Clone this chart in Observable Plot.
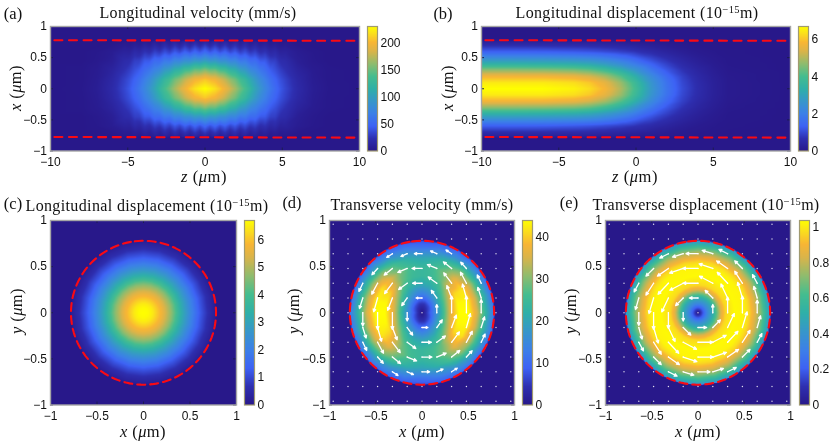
<!DOCTYPE html>
<html><head><meta charset="utf-8">
<script src="https://cdn.jsdelivr.net/npm/d3@7"></script>
<script src="https://cdn.jsdelivr.net/npm/@observablehq/plot@0.6"></script>
<style>
html,body{margin:0;padding:0;background:#fff;width:831px;height:443px;overflow:hidden}
#fig{position:relative;width:831px;height:443px;filter:blur(.3px)}
#fig svg{position:absolute;overflow:visible}
.t{position:absolute;font-family:"Liberation Serif",serif;font-size:16px;color:#111;white-space:nowrap;line-height:1}
.t sup{font-size:10.5px;line-height:0;vertical-align:5px}
</style></head><body><div id="fig"></div>
<script>
// colour map (fraction of the maximum -> colour)
const mapStops  = [0, .1, .2, .3, .4, .5, .6, .7, .8, .87, .95, 1];
const mapColors = ["#28188a","#2e2fb0","#3d62f5","#3c80e8","#3797ca","#2fb0a8","#45bd8f","#8fbc6e","#dab44a","#f8b535","#fbe31a","#ffff00"];

// (a) longitudinal velocity, half of the symmetric z axis; rows by |x|
const aZ = [0,.325,.65,.975,1.3,1.625,1.95,2.275,2.6,2.925,3.25,3.575,3.9,4.225,4.55,4.875,5.2,6,7,8,10];
const aX = [0,.15,.3,.45,.6,.7,.77,.79,1];
const aRows = [
 [230,225,218,208,195,182,168,152,138,122,105,90,76,63,52,42,34,18,6,1.5,0],
 [207,201,197,186,176,162,152,136,125,109,95,80,69,56,47,38,31,16,5,1,0],
 [159,150,151,139,135,121,116,101,95,80,73,62,55,44,38,30,24,12,4,1,0],
 [100,91,94,84,85,75,76,63,65,53,54,42,42,31,30,21,19,7,2,0,0],
 [50,38,48,36,45,33,41,29,36,25,30,20,24,15,18,10,11,5,1.5,0,0],
 [28,17,27,16,25,14,23,12,20,10,16,8,12,6,8,4,5,1.5,0,0,0],
 [13,6,13,6,12,5,11,5,10,4,8,3,6,2,4,1,2,0,0,0,0]
];
// (b) longitudinal displacement, rows by |x|
const bZ = [-10,-8,-6,-4,-3,-2,-1,0,1,2,3,4,5,6,10];
const bX = [0,.1,.2,.3,.4,.5,.6,.7,.78,.79,1];
const bRows = [
 [6.7,6.7,6.7,6.55,6.3,5.8,5.0,3.9,2.7,1.75,1.05,.6,.28,.09,0],
 [6.45,6.45,6.45,6.3,6.05,5.55,4.8,3.75,2.6,1.7,1.0,.57,.27,.09,0],
 [5.75,5.75,5.75,5.6,5.35,4.9,4.2,3.3,2.3,1.5,.9,.5,.24,.08,0],
 [4.7,4.7,4.65,4.5,4.3,3.9,3.35,2.6,1.85,1.2,.72,.4,.19,.06,0],
 [3.4,3.4,3.35,3.25,3.1,2.8,2.4,1.9,1.35,.9,.52,.28,.13,.04,0],
 [2.3,2.3,2.28,2.2,2.1,1.9,1.62,1.28,.92,.6,.36,.19,.09,.03,0],
 [1.3,1.3,1.28,1.2,1.13,1.02,.88,.7,.52,.35,.2,.1,.05,.02,0],
 [.6,.6,.59,.55,.52,.47,.4,.32,.24,.16,.09,.05,.02,.01,0],
 [.2,.2,.2,.18,.17,.15,.13,.1,.08,.05,.03,.02,.01,0,0]
];
// (c) longitudinal displacement against radius
const cR = [0,.05,.1,.2,.3,.4,.5,.6,.7,.78];
const cV = [6.7,6.65,6.45,5.7,4.7,3.4,2.3,1.3,.6,.2];
// (d) transverse velocity: rows by angle 0,15..90 deg, columns by radius
const dR = [0,.1,.2,.3,.4,.5,.6,.7,.78];
const dRows = [
 [0,10,21,35,44,44,35,22,12],
 [0,9,21,34,43.5,43.5,34,21,11],
 [0,8,20,31,41,42,33,20,10],
 [0,7,18,27,35,37,31,19,10],
 [0,6,16,23,28,30,26,16,9],
 [0,5,14,21,25,26,22,14,8],
 [0,5,13,20,24,24,20,12,7]
];
// (e) transverse displacement against radius
const eR = [0,.1,.16,.2,.25,.3,.4,.5,.55,.6,.65,.7,.75,.78];
const eV = [0,.35,.5,.65,.85,.97,1.03,1.02,.97,.88,.78,.65,.5,.4];
// arrows on the quiver grid, first quadrant; rows by y step, columns by x step
const quiverStep = .16;
const dU = [[0,0,0,0,0],[-15,-14,-12,-10,-8.5],[-24,-22,-20,-15,-10],[-25.5,-24,-21,-14.5],[-19.5,-16,-14.5]];
const dV = [[0,21,42.5,42.5,34],[0,19.5,31.5,35.5,27],[0,16,26.5,28,21],[0,10,17,16],[0,7,9.5]];
const eU = [[0,0,0,0,0],[-.52,-.46,-.40,-.28,-.20],[-.90,-.80,-.62,-.46,-.28],[-.92,-.82,-.66,-.46],[-.72,-.64,-.52]];
const eV2 = [[0,.50,.94,1.0,.76],[0,.46,.84,.94,.70],[0,.42,.66,.72,.52],[0,.28,.46,.46],[0,.20,.26]];
const angles = d3.range(0,360,15);

const fig = document.getElementById("fig");
const FONT = "Liberation Sans, Arial, sans-serif";
const TICK = 12;
const colorScale = max => ({type:"linear",domain:mapStops.map(s=>s*max),range:mapColors,clamp:true});
const rowsMesh = (zs,xs,rows,mirror) => {
  const Z = mirror ? [...zs.slice(1).reverse().map(z=>-z),...zs] : zs;
  const col = k => mirror ? Math.abs(k-zs.length+1) : k;
  const out=[];
  xs.forEach((x,j)=>{ Z.forEach((z,k)=>{ const v = rows[j] ? rows[j][col(k)] : 0;
    out.push({x:z,y:x,v}); if(x>0) out.push({x:z,y:-x,v}); }); });
  return out;
};
const polarMesh = (rs,val) => {
  const out=[{x:0,y:0,v:val(0,0)}];
  rs.slice(1).forEach((r,i)=>angles.forEach(a=>{
    out.push({x:r*Math.cos(a*Math.PI/180),y:r*Math.sin(a*Math.PI/180),v:val(i+1,a)});
  }));
  angles.forEach(a=>out.push({x:.79*Math.cos(a*Math.PI/180),y:.79*Math.sin(a*Math.PI/180),v:0}));
  [[-1,-1],[1,-1],[-1,1],[1,1]].forEach(([x,y])=>out.push({x,y,v:0}));
  return out;
};
const foldAngle = a => { a%=180; return (a>90?180-a:a)/15; };
const RED={stroke:"#fa0a14",strokeWidth:2.1};
const circle = d3.range(0,361,3).map(a=>({x:.78*Math.cos((a+100)*Math.PI/180),y:.78*Math.sin((a+100)*Math.PI/180)}));
const fmtTick = d => String(d).replace("-","−");

function quiver(U,V,scale){
  const arrows=[];
  U.forEach((row,j)=>row.forEach((u,i)=>{
    if(i===0&&j===0) return;
    for(const sx of i?[1,-1]:[1]) for(const sy of j?[1,-1]:[1]){
      const x=sx*i*quiverStep,y=sy*j*quiverStep;
      arrows.push({x,y,x2:x+u*sy*scale,y2:y+V[j][i]*sx*scale});
    }
  }));
  const g=d3.range(-6,7).map(k=>k*quiverStep);
  const dots=d3.cross(g,g).map(([x,y])=>({x,y}));
  return [
    Plot.dot(dots,{x:"x",y:"y",r:.7,fill:"#fff",fillOpacity:.85}),
    Plot.arrow(arrows,{x1:"x",y1:"y",x2:"x2",y2:"y2",stroke:"#fff",strokeWidth:1.3,headLength:3.5,headAngle:50})
  ];
}

function put(plot,left,top){ plot.style.left=left+"px"; plot.style.top=top+"px"; fig.appendChild(plot); }

function panel({L,T,W,H,xd,xt,max,mesh,extra}){
  const m=30;
  const yt=[-1,-.5,0,.5,1];
  const axes=[
    Plot.axisX({ticks:xt,tickSize:0,tickPadding:6,fontSize:TICK,tickFormat:fmtTick}),
    Plot.axisY({ticks:yt,tickSize:0,tickPadding:3.5,fontSize:TICK,tickFormat:fmtTick}),
    Plot.tickX(xt,{x:d=>d,insetTop:H-3,stroke:"#1c1c50"}),
    Plot.tickX(xt,{x:d=>d,insetBottom:H-3,stroke:"#1c1c50"}),
    Plot.tickY(yt,{y:d=>d,insetRight:W-3,stroke:"#1c1c50"}),
    Plot.tickY(yt,{y:d=>d,insetLeft:W-3,stroke:"#1c1c50"})
  ];
  put(Plot.plot({width:W+2*m,height:H+2*m,marginLeft:m,marginRight:m,marginTop:m,marginBottom:m,
    style:{background:"transparent",fontFamily:FONT,color:"#111",fontSize:TICK+"px"},
    x:{domain:xd,label:null,axis:null},y:{domain:[-1,1],label:null,axis:null},color:colorScale(max),
    marks:[
      Plot.frame({fill:mapColors[0]}),
      Plot.raster(mesh,{x:"x",y:"y",fill:"v",interpolate:"barycentric",pixelSize:1}),
      ...extra,...axes,
      Plot.frame({stroke:"#a6a6a6",strokeWidth:1.4})
    ]}),L-m,T-m);
}
function colorbar({L,T,W,H,max,ticks}){
  const m=30;
  put(Plot.plot({width:W+2*m,height:H+2*m,marginLeft:m,marginRight:m,marginTop:m,marginBottom:m,
    style:{background:"transparent",fontFamily:FONT,color:"#111",fontSize:TICK+"px"},
    x:{domain:[0,1],axis:null},y:{domain:[0,max],axis:null},color:colorScale(max),
    marks:[
      Plot.raster({x1:0,x2:1,y1:0,y2:max,width:1,height:Math.round(H),fill:(x,y)=>y}),
      Plot.axisY({anchor:"right",ticks,tickSize:0,tickPadding:3,fontSize:TICK,label:null,tickFormat:fmtTick}),
      Plot.frame({stroke:"#a09a70",strokeWidth:1.2})
    ]}),L-m,T-m);
}
function text(html,cx,cy,target,rot,size){
  const d=document.createElement("div"); d.className="t"; d.innerHTML=html;
  if(size) d.style.fontSize=size+"px";
  fig.appendChild(d);
  if(target){ const w=d.getBoundingClientRect().width; const n=d.textContent.length; d.style.letterSpacing=((target-w)/n)+"px"; }
  d.style.left=cx+"px"; d.style.top=cy+"px";
  d.style.transform=`translate(-50%,-50%)${rot?" rotate(-90deg)":""}`;
}

const xtN=[-1,-.5,0,.5,1], ztN=[-10,-5,0,5,10];
const lineZ=[-9.75,9.85];
const redLines=()=>[
  Plot.line(lineZ.map((z,i)=>({z,x:[.78,.77][i]})),{x:"z",y:"x",...RED,strokeDasharray:"8,6.6"}),
  Plot.line(lineZ.map((z,i)=>({z,x:[-.775,-.785][i]})),{x:"z",y:"x",...RED,strokeDasharray:"8,6.6"})
];
const circ=()=>[Plot.line(circle,{x:"x",y:"y",...RED,strokeDasharray:"8,5"})];

// (a)
panel({L:50,T:25.5,W:309,H:124.5,xd:[-10,10],xt:ztN,max:230,mesh:rowsMesh(aZ,aX,aRows,true),extra:redLines()});
colorbar({L:367,T:25.5,W:10,H:124.5,max:230,ticks:[0,50,100,150,200]});
// (b)
panel({L:481,T:25.5,W:309,H:124.5,xd:[-10,10],xt:ztN,max:6.7,mesh:rowsMesh(bZ,bX,bRows,false),extra:redLines()});
colorbar({L:798,T:25.5,W:10,H:124.5,max:6.7,ticks:[0,2,4,6]});
// (c)
panel({L:50,T:219.5,W:186,H:184.5,xd:[-1,1],xt:xtN,max:6.7,
  mesh:polarMesh(cR,i=>cV[i]),extra:circ()});
colorbar({L:244,T:219.5,W:10,H:184.5,max:6.7,ticks:[0,1,2,3,4,5,6]});
// (d)
panel({L:329,T:219.5,W:185,H:184.5,xd:[-1,1],xt:xtN,max:44,
  mesh:polarMesh(dR,(i,a)=>dRows[foldAngle(a)][i]),extra:[...circ(),...quiver(dU,dV,.00424)]});
colorbar({L:522,T:219.5,W:10,H:184.5,max:44,ticks:[0,10,20,30,40]});
// (e)
panel({L:605,T:219.5,W:185,H:184.5,xd:[-1,1],xt:xtN,max:1.04,
  mesh:polarMesh(eR,i=>eV[i]),extra:[...circ(),...quiver(eU,eV2,.18)]});
colorbar({L:798.5,T:219.5,W:10,H:184.5,max:1.04,ticks:[0,.2,.4,.6,.8,1]});

// texts
const mu='<i>μ</i>m';
text("(a)",13,14,0,false,16.5); text("(b)",443,14,0,false,16.5); text("(c)",13,204,0,false,16.5); text("(d)",292,203,0,false,16.5); text("(e)",569,203,0,false,16.5);
text("Longitudinal velocity (mm/s)",198,13,197);
text("Longitudinal displacement (10<sup>−15</sup>m)",637,13,243);
text("Longitudinal displacement (10<sup>−15</sup>m)",147,206,243);
text("Transverse velocity (mm/s)",422,205,183);
text("Transverse displacement (10<sup>−15</sup>m)",706,205,227);
const L=(s,x,y,r)=>text(`<i>${s}</i> (${mu})`,x,y,46,r,16.5);
L("z",204,177); L("z",635,177);
L("x",143,432); L("x",422,432); L("x",698,432);
L("x",16,88,true); L("x",448,88,true);
L("y",17,311,true); L("y",294,311,true); L("y",571,311,true);
</script></body></html>
